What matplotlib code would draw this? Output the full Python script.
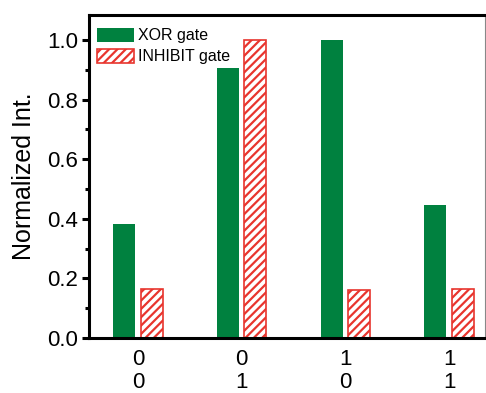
import numpy as np
import matplotlib
matplotlib.use('Agg')
import matplotlib.pyplot as plt

plt.rcParams['font.family'] = ['Liberation Sans', 'DejaVu Sans']
plt.rcParams['hatch.linewidth'] = 1.6
plt.rcParams['hatch.color'] = '#e8352e'

# Data
inputs = ['0\n0', '0\n1', '1\n0', '1\n1']
xor_gate = [0.383, 0.905, 1.0, 0.446]
inhibit_gate = [0.164, 1.0, 0.161, 0.164]

green = '#00813f'
red = '#e8352e'

fig = plt.figure(figsize=(4.86, 3.93), dpi=100)
ax = fig.add_axes([0.183, 0.14, 0.815, 0.822])

x = np.arange(len(inputs))
w = 0.212
off = 0.132
ax.bar(x - off, xor_gate, w, color=green, label='XOR gate')
ax.bar(x + off, inhibit_gate, w, facecolor='white', edgecolor=red,
       hatch='////', linewidth=1.2, label='INHIBIT gate')

ax.set_xlim(-0.473, 3.347)
ax.set_ylim(0, 1.084)
ax.set_xticks(x)
ax.set_xticklabels(inputs, fontsize=16, linespacing=1.15)
ax.set_yticks([0.0, 0.2, 0.4, 0.6, 0.8, 1.0])
ax.set_yticks(np.arange(0.1, 1.0, 0.2), minor=True)
ax.set_yticklabels(['0.0', '0.2', '0.4', '0.6', '0.8', '1.0'], fontsize=16)
ax.set_ylabel('Normalized Int.', fontsize=18, labelpad=8)

ax.tick_params(axis='x', length=0, pad=8)
ax.tick_params(axis='y', which='major', direction='out', length=5, width=2.2, pad=3)
ax.tick_params(axis='y', which='minor', direction='out', length=3, width=2.2)

for s in ['left', 'bottom', 'top']:
    ax.spines[s].set_linewidth(2.2)
ax.spines['right'].set_linewidth(0.8)
ax.spines['right'].set_color('#888888')

ax.legend(loc='upper left', bbox_to_anchor=(0.0, 0.985), frameon=False,
          fontsize=11.5, handlelength=2.3, handleheight=0.95,
          handletextpad=0.3, borderaxespad=0.2, borderpad=0.3,
          labelspacing=0.35)

fig.savefig('out.png', dpi=100)
